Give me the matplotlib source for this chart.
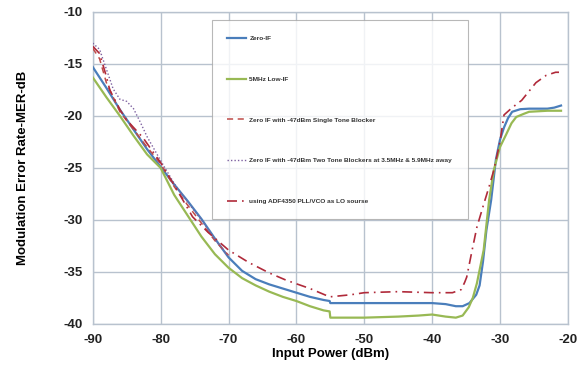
import matplotlib
matplotlib.use('Agg')
import matplotlib.pyplot as plt

plt.rcParams['font.family'] = ['Liberation Sans', 'DejaVu Sans']
plt.rcParams['axes.unicode_minus'] = False

# values
zero_if_x = [-90, -88, -86, -84, -82, -80, -78, -76, -74, -72, -70, -68, -66, -64, -62, -60, -58, -56,
             -55.1, -55, -50, -45, -40, -38, -36.5, -35.5, -34.5, -33.5, -33, -32.5, -32, -31.3, -30.6,
             -30, -29.4, -28.8, -28.2, -27, -25.7, -23, -22, -21]
zero_if_y = [-15.3, -17.3, -19.4, -21.3, -23.2, -24.9, -26.6, -28.2, -29.9, -31.8, -33.6, -34.9, -35.7, -36.2,
             -36.6, -37.0, -37.4, -37.7, -37.8, -38.0, -38.0, -38.0, -38.0, -38.1, -38.3, -38.3, -38.0, -37.2,
             -36.3, -34.0, -31.0, -28.1, -24.2, -22.3, -21.1, -20.2, -19.6, -19.35, -19.3, -19.3, -19.2, -19.0]

low_if_x = [-90, -88, -86, -84, -82, -80, -78, -76, -74, -72, -70, -68, -66, -64, -62, -60, -58, -56,
            -55.1, -55, -50, -45, -42, -40, -38, -36.5, -35.5, -34.6, -34, -33.4, -32.9, -32.4, -31.6,
            -30.9, -30, -29.1, -28.3, -27.6, -26.5, -25.7, -23, -21]
low_if_y = [-16.3, -18.2, -20.0, -21.9, -23.7, -25.0, -27.6, -29.6, -31.6, -33.3, -34.6, -35.6, -36.3, -36.9,
            -37.4, -37.8, -38.3, -38.7, -38.8, -39.4, -39.4, -39.3, -39.2, -39.1, -39.3, -39.4, -39.2, -38.4,
            -37.5, -36.1, -34.5, -32.9, -28.1, -25.2, -23.0, -21.8, -20.7, -20.1, -19.8, -19.6, -19.5, -19.5]

single_x = [-90, -89, -88, -86, -84, -82, -80, -78, -76, -74, -72, -70]
single_y = [-13.5, -14.5, -16.8, -19.6, -21.3, -23.0, -24.6, -26.8, -28.6, -30.3, -32.0, -33.4]

two_tone_x = [-90, -89, -88, -87, -86, -85, -84, -83, -82, -80, -78, -76, -74, -72, -70]
two_tone_y = [-13.0, -13.6, -15.5, -17.4, -18.4, -18.6, -19.3, -20.6, -22.0, -24.3, -26.5, -28.3, -30.0,
              -31.9, -33.5]

adf_x = [-90, -89, -88, -87.5, -86, -85, -82.6, -80, -77.6, -75.3, -73, -70, -67, -64, -61.5, -58, -55.1,
         -52, -50, -45, -40, -37, -35.7, -35.2, -34.9, -34.1, -33.4, -32.4, -31.6, -30.9, -30, -29.4,
         -28.2, -26.8, -24.7, -23.2, -21.8, -21.3]
adf_y = [-13.3, -14.0, -16.2, -17.5, -19.4, -20.4, -22.1, -24.5, -27.1, -29.7, -31.2, -32.9, -34.1, -35.1,
         -35.8, -36.6, -37.4, -37.2, -37.0, -36.9, -37.0, -37.0, -36.7, -36.0, -35.5, -32.9, -30.7, -28.5,
         -26.8, -25.2, -22.5, -19.9, -19.2, -18.5, -16.8, -16.1, -15.8, -15.8]

labels = ['Zero-IF', '5MHz Low-IF', 'Zero IF with -47dBm Single Tone Blocker',
          'Zero IF with -47dBm Two Tone Blockers at 3.5MHz & 5.9MHz away',
          'using ADF4350 PLL/VCO as LO sourse']
xticks = [-90, -80, -70, -60, -50, -40, -30, -20]
yticks = [-40, -35, -30, -25, -20, -15, -10]

fig = plt.figure(figsize=(5.8, 3.74), dpi=100)
ax = fig.add_axes([0.160, 0.134, 0.819, 0.834])

gridc = '#b8c2ce'
ax.plot(zero_if_x, zero_if_y, color='#4a7ebb', lw=1.6, label=labels[0], zorder=3)
ax.plot(low_if_x, low_if_y, color='#98b954', lw=1.6, label=labels[1], zorder=3)
ax.plot(single_x, single_y, color='#be4b48', lw=1.1, ls=(0, (4, 3)), label=labels[2], zorder=3)
ax.plot(two_tone_x, two_tone_y, color='#7d60a0', lw=1.0, ls=(0, (1, 1.5)), label=labels[3], zorder=3)
ax.plot(adf_x, adf_y, color='#b02a3a', lw=1.2, ls=(0, (6, 3, 1, 3)), label=labels[4], zorder=3)

ax.set_xlim(-90, -20)
ax.set_ylim(-40, -10)
ax.set_xticks(xticks)
ax.set_yticks(yticks)
ax.grid(True, color=gridc, lw=1.0)
ax.set_axisbelow(True)
for s in ax.spines.values():
    s.set_color(gridc)
    s.set_linewidth(1.0)
ax.tick_params(length=0, pad=7, labelsize=9.5)
for t in ax.get_xticklabels() + ax.get_yticklabels():
    t.set_fontweight('bold')
    t.set_color('#222222')

ax.set_xlabel('Input Power (dBm)', fontsize=9.5, fontweight='bold', labelpad=2)
ax.set_ylabel('Modulation Error Rate-MER-dB', fontsize=9.5, fontweight='bold', labelpad=25)

leg = ax.legend(loc='upper left', bbox_to_anchor=(0.25, 0.974), frameon=True,
                prop={'family': ['Liberation Sans Narrow', 'Liberation Sans'], 'size': 4.65, 'weight': 'bold'},
                fancybox=False, edgecolor='#a6a6a6', labelspacing=5.45, borderpad=2.4,
                handlelength=3.0, handletextpad=0.45, borderaxespad=0)
leg.get_frame().set_linewidth(0.8)
for t in leg.get_texts():
    t.set_color('#333333')

fig.savefig('out.png', dpi=100)
